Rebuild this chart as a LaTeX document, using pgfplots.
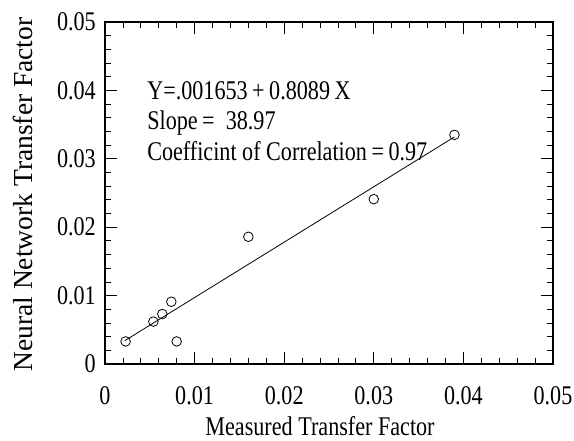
\documentclass[border=0pt]{standalone}
\usepackage{fontspec}
\setmainfont{Liberation Serif}
\newfontfamily\cond{Liberation Serif}[FakeStretch=0.82]
\usepackage{pgfplots}
\pgfplotsset{compat=1.18}
\begin{document}
\begin{tikzpicture}[font=\cond\fontsize{27}{31}\selectfont]
\useasboundingbox (-105pt,-77pt) rectangle (469pt,364pt);
\begin{axis}[
  at={(0pt,0pt)}, anchor=south west,
  scale only axis, width=448pt, height=342pt,
  xmin=0, xmax=0.05, ymin=0, ymax=0.05,
  scaled ticks=false,
  xtick={0,0.01,0.02,0.03,0.04,0.05},
  ytick={0,0.01,0.02,0.03,0.04,0.05},
  xticklabels={0,0.01,0.02,0.03,0.04,0.05},
  yticklabels={0,0.01,0.02,0.03,0.04,0.05},
  minor tick num=4,
  tick align=inside, tick pos=both,
  major tick length=12pt, minor tick length=6pt,
  every tick/.style={black, line width=0.8pt},
  axis line style={line width=1.2pt},
  tick label style={font=\cond\fontsize{27}{31}\selectfont, inner sep=0pt},
  xticklabel style={anchor=base, yshift=-41pt},
  yticklabel style={anchor=east, xshift=-9pt},
  xlabel={Measured Transfer Factor},
  ylabel={Neural Network Transfer Factor},
  xlabel style={font=\cond\fontsize{27}{31}\selectfont, inner sep=0pt,
    at={(axis description cs:0.48,0)}, anchor=base, yshift=-72pt},
  ylabel style={font=\fontsize{27.5}{31}\selectfont, inner sep=0pt,
    at={(axis description cs:-0.1837,0.4956)}, anchor=center},
  clip=false]
\addplot[only marks, mark=o, mark size=4.8pt, line width=0.8pt] coordinates {
  (0.0023,0.0033) (0.0054,0.0062) (0.0064,0.0073) (0.0074,0.0091)
  (0.0080,0.0033) (0.0160,0.0186) (0.0300,0.0241) (0.0390,0.0335)};
\addplot[black, line width=0.8pt] coordinates {(0.0022,0.0034) (0.0390,0.0332)};
\node[anchor=base west, inner sep=0pt] at (axis cs:0.0047,0.03874) {Y=.001653\,+\,0.8089\,X};
\node[anchor=base west, inner sep=0pt] at (axis cs:0.0047,0.03428) {Slope\,=\ \ 38.97};
\node[anchor=base west, inner sep=0pt] at (axis cs:0.0047,0.02982) {Coefficint of Correlation\,=\,0.97};
\end{axis}
\end{tikzpicture}
\end{document}
